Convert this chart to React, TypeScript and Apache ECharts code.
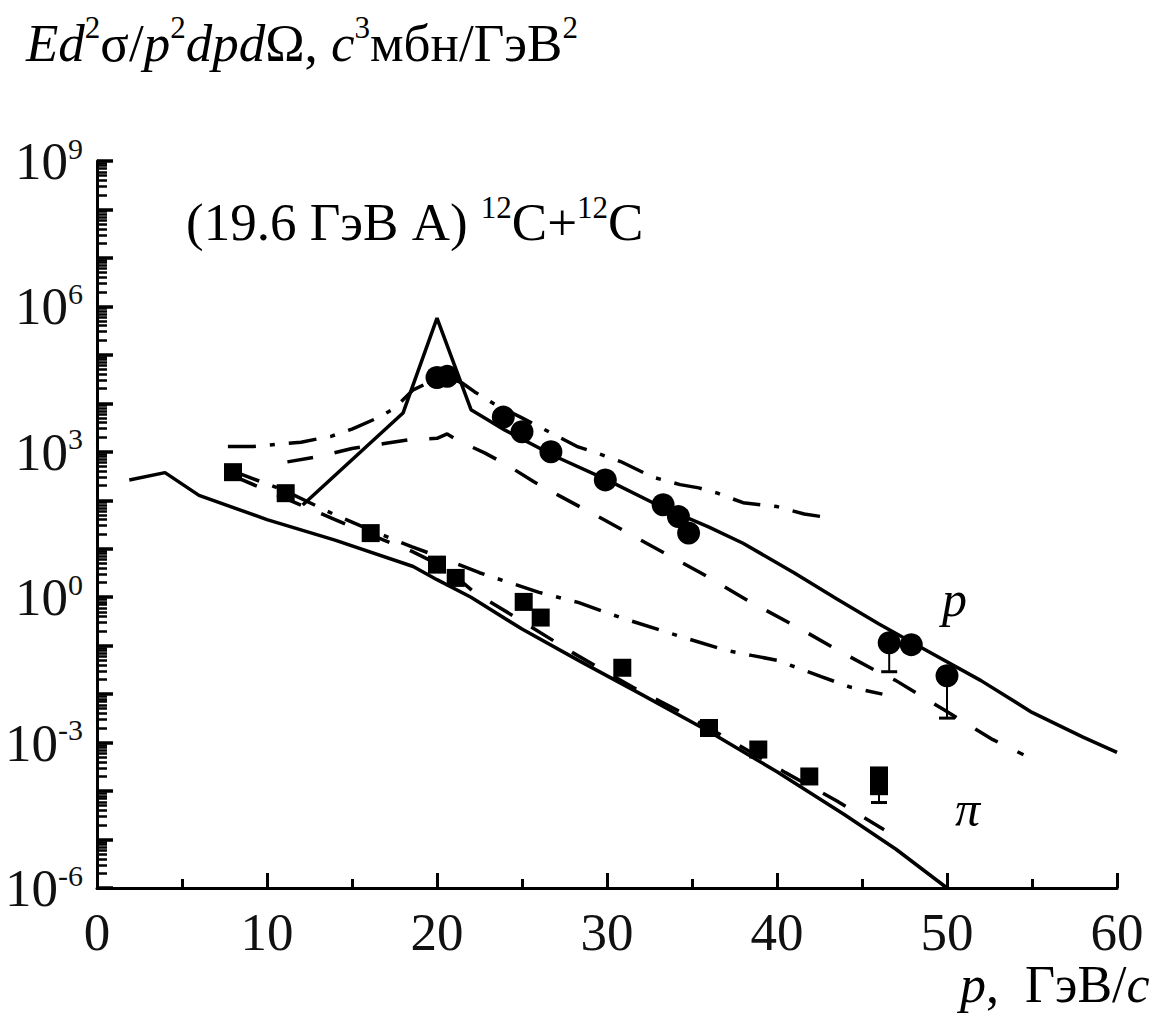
import { useEffect, useRef } from "react";
import * as echarts from "echarts";

// ---- data (x = p in GeV/c, y = cross-section) ----
const protonSolid: [number, number][] = [
  [12.1, 80], [18, 6300], [20, 5.75e5], [22, 7400], [24, 2800], [27, 790], [30, 263],
  [33, 79], [36, 28], [38, 13], [41, 3.2], [43.5, 0.93], [46, 0.28], [48.4, 0.095],
  [52, 0.019], [55, 4.2e-3], [58, 1.3e-3], [60, 6.3e-4],
];
const protonDashDot: [number, number][] = [
  [7.7, 1290], [9.2, 1290], [12, 1580], [13.8, 2100], [15, 2950], [16.5, 5000], [17.5, 7900],
  [18.6, 1.9e4], [19.8, 3.0e4], [20.6, 3.5e4], [21.5, 2.6e4], [22.2, 1.74e4], [23.3, 1.0e4],
  [25, 5000], [28.3, 1260], [29.2, 1000], [30.8, 630], [32.7, 300], [34.3, 210], [35.4, 180],
  [36.5, 140], [38, 89], [40, 74], [41.6, 52], [42.8, 45],
];
const protonDashed: [number, number][] = [
  [11.2, 620], [13, 790], [15, 1170], [17, 1500], [18.4, 1780], [20, 1900], [20.6, 2340],
  [21.3, 1660], [22.8, 950], [24.1, 540], [25.7, 240], [27.1, 129], [29.8, 40], [32.7, 11],
  [35.5, 3.2], [38.4, 0.81], [41.3, 0.23], [43.7, 0.076], [45.7, 0.032], [47, 0.019],
  [49.8, 4.8e-3], [52.7, 1.15e-3], [54.5, 5.6e-4],
];
const protonPoints: [number, number][] = [
  [20, 3.4e4], [20.6, 3.6e4], [23.9, 5200], [25, 2600], [26.7, 1000], [29.9, 263],
  [33.3, 81], [34.2, 46], [34.8, 21], [46.6, 0.115], [47.9, 0.105], [50, 0.024],
];
const protonErrors: [number, number, number][] = [
  [46.6, 0.115, 0.029], [50, 0.024, 3.2e-3],
];

const pionSolid: [number, number][] = [
  [1.9, 263], [4, 372], [6, 126], [10, 40], [14, 15], [18.6, 4.3], [20, 2.3], [22, 1.0],
  [25, 0.22], [28.4, 0.048], [32, 0.01], [36, 1.7e-3], [40, 2.5e-4], [44, 3.2e-5],
  [47, 6.3e-6], [50, 1e-6],
];
const pionDashDot: [number, number][] = [
  [8, 400], [11, 160], [14, 50], [16, 25], [18.5, 11], [20, 7.1], [22.5, 3.2], [26, 1.26],
  [28.3, 0.78], [30.8, 0.38], [34.3, 0.155], [37, 0.08], [38.5, 0.063], [40, 0.05],
  [42.6, 0.023], [44.3, 0.014], [46.2, 0.01],
];
const pionDashed: [number, number][] = [
  [8, 320], [11, 112], [14, 40], [16, 20], [18.5, 8.9], [20.5, 4.0], [22.2, 1.26], [25, 0.32],
  [28, 0.071], [31.5, 0.014], [34.5, 4.0e-3], [37.5, 1.0e-3], [40.5, 2.4e-4], [43.5, 6.3e-5],
  [46.3, 1.6e-5],
];
const pionPoints: [number, number][] = [
  [8, 380], [11.1, 140], [16.1, 21], [20, 4.7], [21.1, 2.5], [25.1, 0.8], [26.1, 0.38],
  [30.9, 0.035], [36, 2.0e-3], [38.9, 7.2e-4], [41.9, 2.0e-4], [46, 2.1e-4], [46, 1.26e-4],
];
const pionErrors: [number, number, number][] = [[46, 1.26e-4, 5.8e-5]];

const xTicks = { min: 0, max: 60, interval: 10 };
const yExpRange = { min: -6, max: 9 }; // decades 10^-6 .. 10^9
const yLabelStep = 3;
const minorMultipliers = [2, 3, 4, 5, 6, 7, 8, 9];

const FONT = "'Liberation Serif', 'DejaVu Serif', serif";

const lg = (arr: [number, number][]) => arr.map(([x, v]) => [x, Math.log10(v)]);

export default function App() {
  const ref = useRef<HTMLDivElement>(null);
  useEffect(() => {
    const chart = echarts.init(ref.current!, null, { renderer: "svg" });

    // minor (log-spaced) tick positions in exponent space
    const minorTickValues: number[] = [];
    for (let d = yExpRange.min; d < yExpRange.max; d++) {
      for (const k of minorMultipliers) minorTickValues.push(d + Math.log10(k));
    }

    const lineSeries = (data: [number, number][], type: any) => ({
      type: "line",
      data: lg(data),
      showSymbol: false,
      symbol: "none",
      silent: true,
      z: 3,
      lineStyle: { color: "#000", width: 3.5, type, cap: "butt", opacity: 1 },
    });

    const errRender = (params: any, api: any) => {
      const c = api.coord([api.value(0), api.value(1)]);
      const l = api.coord([api.value(0), api.value(2)]);
      return {
        type: "group",
        children: [
          { type: "line", shape: { x1: c[0], y1: c[1], x2: l[0], y2: l[1] }, style: { stroke: "#000", lineWidth: 2 } },
          { type: "line", shape: { x1: l[0] - 8, y1: l[1], x2: l[0] + 8, y2: l[1] }, style: { stroke: "#000", lineWidth: 3 } },
        ],
      };
    };

    const mkRich = (fs: number, sfs: number, lh: number, raise: number) => ({
      n: { fontFamily: FONT, fontSize: fs, color: "#111", lineHeight: lh },
      i: { fontFamily: FONT, fontSize: fs, fontStyle: "italic", color: "#111", lineHeight: lh },
      s: { fontFamily: FONT, fontSize: sfs, color: "#111", verticalAlign: "top", lineHeight: lh, padding: [0, 0, raise, 0] },
    });

    chart.setOption({
      animation: false,
      backgroundColor: "#fff",
      grid: { left: 97, right: 49, top: 161, bottom: 128, containLabel: false, outerBoundsMode: "none" },
      xAxis: {
        type: "value",
        min: xTicks.min,
        max: xTicks.max,
        interval: xTicks.interval,
        axisLine: { show: true, onZero: false, lineStyle: { color: "#000", width: 3 } },
        axisTick: { show: true, inside: true, length: 15, lineStyle: { color: "#000", width: 3 } },
        minorTick: { show: true, splitNumber: 2, length: 9, lineStyle: { color: "#000", width: 3 } },
        splitLine: { show: false },
        axisLabel: { fontFamily: FONT, fontSize: 53, color: "#111", margin: 17 },
      },
      yAxis: [
        {
          type: "value",
          min: yExpRange.min,
          max: yExpRange.max,
          interval: 1,
          axisLine: { show: true, onZero: false, lineStyle: { color: "#000", width: 3 } },
          axisTick: { show: true, inside: true, length: 16, lineStyle: { color: "#000", width: 3.5 } },
          splitLine: { show: false },
          axisLabel: {
            margin: 14,
            formatter: (v: number) => {
              const r = Math.round(v);
              return r % yLabelStep === 0 ? `{b|10}{s|${r}}` : "";
            },
            rich: {
              b: { fontFamily: FONT, fontSize: 53, color: "#111", lineHeight: 56 },
              s: { fontFamily: FONT, fontSize: 30, color: "#111", verticalAlign: "top", lineHeight: 56, padding: [0, 0, 24, 0] },
            },
          },
        },
        {
          type: "value",
          position: "left",
          offset: 0,
          min: yExpRange.min,
          max: yExpRange.max,
          interval: 1,
          axisLine: { show: false },
          axisLabel: { show: false },
          splitLine: { show: false },
          axisTick: {
            show: true,
            inside: true,
            length: 10,
            customValues: minorTickValues,
            lineStyle: { color: "#000", width: 2.5 },
          },
        },
      ],
      series: [
        lineSeries(protonSolid, "solid"),
        lineSeries(protonDashDot, [28, 14, 5, 14]),
        lineSeries(protonDashed, [26, 22]),
        lineSeries(pionSolid, "solid"),
        lineSeries(pionDashDot, [28, 14, 5, 14]),
        lineSeries(pionDashed, [26, 22]),
        { type: "custom", silent: true, data: protonErrors.map(([x, v, lo]) => [x, Math.log10(v), Math.log10(lo)]), renderItem: errRender, encode: { x: 0, y: [1, 2] }, z: 4 },
        { type: "custom", silent: true, data: pionErrors.map(([x, v, lo]) => [x, Math.log10(v), Math.log10(lo)]), renderItem: errRender, encode: { x: 0, y: [1, 2] }, z: 4 },
        { type: "scatter", silent: true, symbol: "circle", symbolSize: 23, itemStyle: { color: "#000", opacity: 1 }, data: lg(protonPoints), z: 5 },
        { type: "scatter", silent: true, symbol: "rect", symbolSize: 18, itemStyle: { color: "#000", opacity: 1 }, data: lg(pionPoints), z: 5 },
      ],
      graphic: [
        {
          type: "text", left: 26, top: 12,
          style: { text: "{i|Ed}{s|2}{n|σ/}{i|p}{s|2}{i|dpd}{n|Ω, }{i|c}{s|3}{n|мбн/ГэВ}{s|2}", rich: mkRich(53, 31, 62, 27) },
        },
        {
          type: "text", left: 186, top: 192,
          style: { text: "{n|(19.6 ГэВ A) }{s|12}{n|C+}{s|12}{n|C}", rich: mkRich(53, 31, 60, 26) },
        },
        {
          type: "text", left: 942, top: 574,
          style: { text: "{i|p}", rich: mkRich(50, 30, 56, 24) },
        },
        {
          type: "text", left: 955, top: 784,
          style: { text: "{i|π}", rich: mkRich(50, 30, 56, 24) },
        },
        {
          type: "text", left: 960, top: 958,
          style: { text: "{i|p}{n|,  ГэВ/}{i|c}", rich: mkRich(52, 30, 56, 24) },
        },
      ],
    });
    return () => chart.dispose();
  }, []);
  return (
    <div
      ref={ref}
      style={{ position: "fixed", left: 0, top: 0, width: 1166, height: 1016, background: "#fff" }}
    />
  );
}
